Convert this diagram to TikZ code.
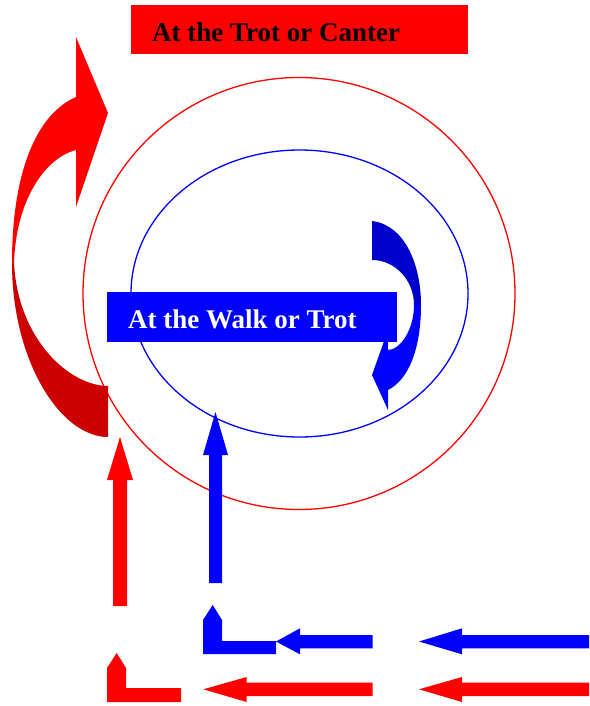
\documentclass[tikz,border=0pt]{standalone}
\usepackage{fontspec}
\setmainfont{Liberation Serif}
\definecolor{pred}{RGB}{255,0,0}
\definecolor{dred}{RGB}{204,0,0}
\definecolor{pblue}{RGB}{0,0,255}
\definecolor{dblue}{RGB}{0,0,204}
\begin{document}
\begin{tikzpicture}[x=1pt,y=-1pt,
  labtext/.style={font=\bfseries\fontsize{27}{30}\selectfont, inner sep=0pt, anchor=base west},
  labbox/.style={anchor=north west, inner sep=0pt},
  ring/.style={line width=1.3pt},
  redfill/.style={fill=pred},
  bluefill/.style={fill=pblue}]
\useasboundingbox (0,0) rectangle (589,706);
% circles
\draw[ring, pred] (299,293.5) circle [radius=216];
\draw[ring, pblue] (299.5,293.5) ellipse [x radius=168.5, y radius=143.5];
% red curved arrow
\fill[redfill] (76,97) .. controls (35,115) and (12,175) .. (12,263) -- (14,263)
  .. controls (16,200) and (45,158) .. (76,150) -- (76,207) -- (108,113) -- (76,37) -- cycle;
\fill[dred] (12,263) .. controls (12,360) and (60,437) .. (108,437) -- (108,386)
  .. controls (70,386) and (18,340) .. (14,263) -- cycle;
% blue curved arrow
\fill[dblue] (372,221) .. controls (405,225) and (421,265) .. (421,305) -- (414,305)
  .. controls (414,280) and (395,260) .. (372,260) -- cycle;
\fill[bluefill] (421,305) .. controls (421,350) and (408,380) .. (388,390) -- (388,410)
  -- (372,375) -- (388,330) -- (388,350) .. controls (400,350) and (414,330) .. (414,305) -- cycle;
% vertical arrows
\fill[redfill] (113,606) -- (113,480) -- (107,480) -- (120,437) -- (133,480) -- (127,480) -- (127,606) -- cycle;
\fill[bluefill] (209,583) -- (209,455) -- (203,455) -- (215.5,412) -- (228,455) -- (222,455) -- (222,583) -- cycle;
% L shapes
\fill[redfill] (107,702) -- (181,702) -- (181,688) -- (126,688) -- (126,668) -- (116.7,653) -- (107,668) -- cycle;
\fill[bluefill] (203,654) -- (276,654) -- (276,641) -- (222,641) -- (222,620) -- (212.7,605) -- (203,620) -- cycle;
% horizontal arrows
\fill[bluefill] (372.7,635) -- (300,635) -- (300,628.3) -- (276,641.5) -- (300,654.3) -- (300,648.3) -- (372.7,648.3) -- cycle;
\fill[bluefill] (589,635) -- (462,635) -- (462,628.3) -- (419,641.5) -- (462,654.3) -- (462,648.3) -- (589,648.3) -- cycle;
\fill[redfill] (372.7,682.7) -- (246.7,682.7) -- (246.7,677) -- (203.3,689.3) -- (246.7,702) -- (246.7,696) -- (372.7,696) -- cycle;
\fill[redfill] (589,682.7) -- (462,682.7) -- (462,677) -- (419,689.3) -- (462,702) -- (462,696) -- (589,696) -- cycle;
% label boxes
\node[labbox, redfill, minimum width=337pt, minimum height=49pt] (trotbox) at (131,5) {};
\node[labtext, text=black] (trottext) at (152,41.7) {At the Trot or Canter};
\node[labbox, bluefill, minimum width=290pt, minimum height=50pt] (walkbox) at (107,292) {};
\node[labtext, text=white] (walktext) at (128,328) {At the Walk or Trot};
\end{tikzpicture}
\end{document}
